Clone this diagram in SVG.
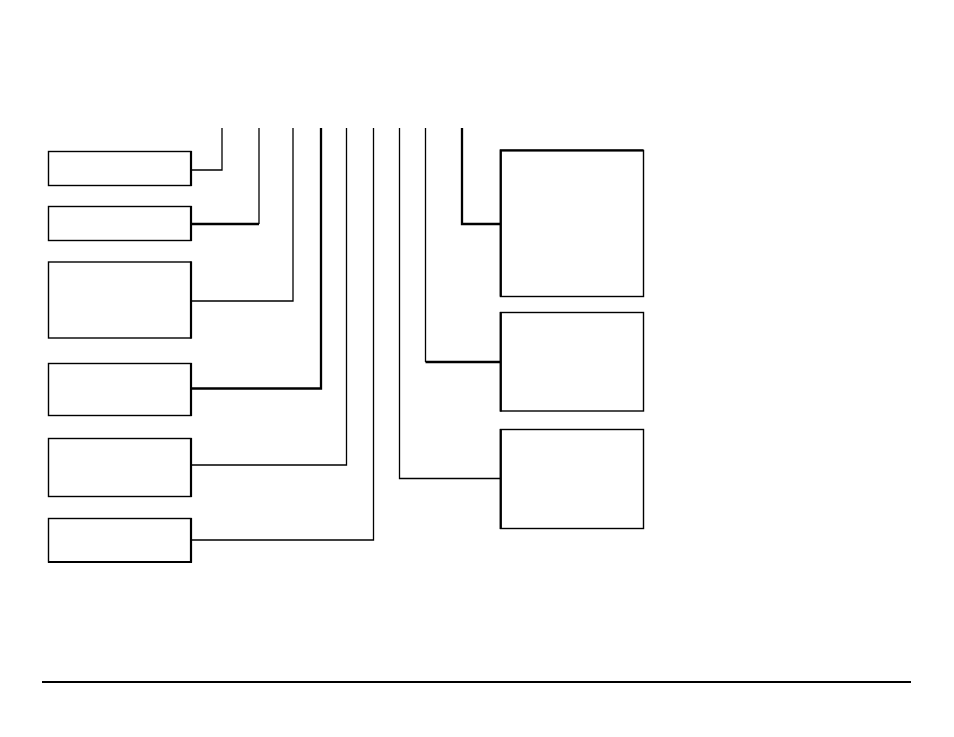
<svg xmlns="http://www.w3.org/2000/svg" width="954" height="737" viewBox="0 0 954 737">
<style>
.box{fill:#fff;stroke:#000;stroke-width:1.4}
.edge{stroke:#000;stroke-width:2.2;fill:none}
.c{fill:none;stroke:#000;stroke-width:1.3}
.ct{fill:none;stroke:#000;stroke-width:2.3}
</style>
<rect width="954" height="737" fill="#fff"/>
<g id="connectors">
<polyline class="c" points="222,128 222,170 191,170"/>
<polyline class="c" points="259,128 259,224"/>
<line class="ct" x1="259" y1="224" x2="191" y2="224"/>
<polyline class="c" points="293,128 293,301 191,301"/>
<polyline class="ct" points="321,128 321,388.5 191,388.5"/>
<polyline class="c" points="346.5,128 346.5,465 191,465"/>
<polyline class="c" points="373.5,128 373.5,540 191,540"/>
<polyline class="c" points="399.5,128 399.5,478.5 500,478.5"/>
<polyline class="c" points="425.5,128 425.5,362"/>
<line class="ct" x1="425.5" y1="362" x2="500" y2="362"/>
<polyline class="ct" points="462,128 462,224 500,224"/>
</g>
<g id="box1"><rect class="box" x="48.5" y="151.5" width="142.5" height="34"/><line class="edge" x1="191" y1="151" x2="191" y2="186"/></g>
<g id="box2"><rect class="box" x="48.5" y="206.5" width="142.5" height="34"/><line class="edge" x1="191" y1="206" x2="191" y2="241"/></g>
<g id="box3"><rect class="box" x="48.5" y="262" width="142.5" height="76"/><line class="edge" x1="191" y1="261.5" x2="191" y2="338.5"/></g>
<g id="box4"><rect class="box" x="48.5" y="363.5" width="142.5" height="52"/><line class="edge" x1="191" y1="363" x2="191" y2="416"/></g>
<g id="box5"><rect class="box" x="48.5" y="438.5" width="142.5" height="58"/><line class="edge" x1="191" y1="438" x2="191" y2="497"/></g>
<g id="box6"><rect class="box" x="48.5" y="518.5" width="142.5" height="43.5"/><line class="edge" x1="191" y1="518" x2="191" y2="562.5"/><line class="edge" x1="48" y1="562" x2="192" y2="562"/></g>
<g id="boxA"><rect class="box" x="500.5" y="150.5" width="143" height="146"/><polyline class="edge" points="500.8,296.5 500.8,150.3 643.5,150.3"/></g>
<g id="boxB"><rect class="box" x="500.5" y="312.5" width="143" height="98.5"/><line class="edge" x1="500.8" y1="312" x2="500.8" y2="411.5"/></g>
<g id="boxC"><rect class="box" x="500.5" y="429.5" width="143" height="99"/><line class="edge" x1="500.8" y1="429" x2="500.8" y2="529"/></g>
<line x1="42" y1="682" x2="911" y2="682" stroke="#000" stroke-width="2"/>
</svg>
